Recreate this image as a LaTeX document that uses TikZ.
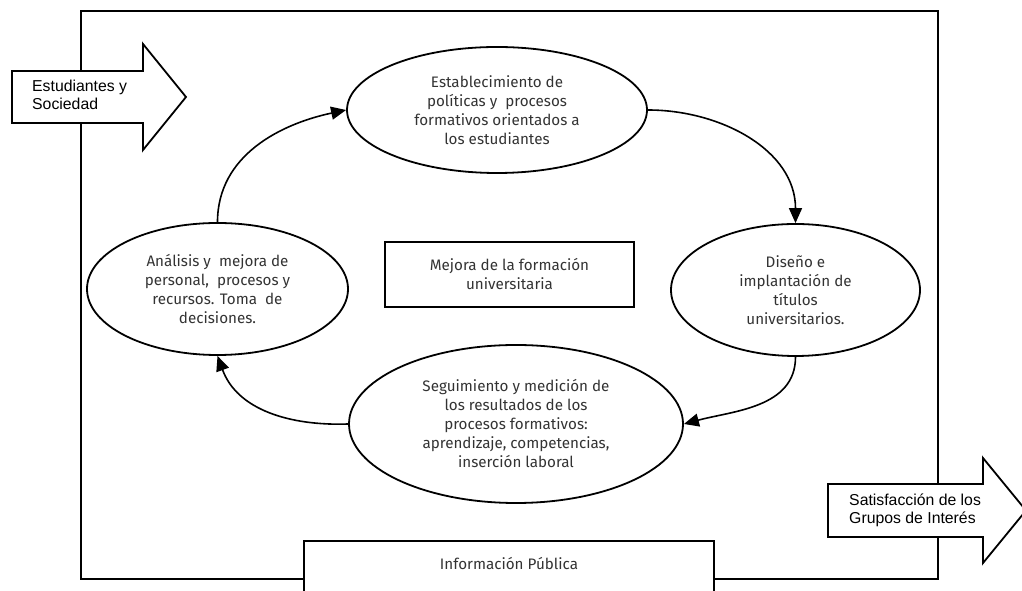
\documentclass[tikz,border=0pt]{standalone}
\usepackage{fontspec}
\setmainfont{Liberation Sans}
\newfontfamily\dinfont{Fira Sans}
\usetikzlibrary{shapes.geometric,arrows.meta}
\tikzset{
  proc/.style={ellipse,draw,line width=1.8pt,inner sep=0pt,align=center,text=black!80,font=\dinfont\fontsize{15.2}{19}\selectfont},
  flow/.style={line width=1.6pt,-{Triangle[length=15pt,width=13pt]}},
  flat/.style={draw,line width=1.8pt,fill=white},
  side/.style={inner sep=0pt,align=left,font=\fontsize{15.8}{18}\selectfont}
}
\begin{document}
\begin{tikzpicture}[x=1pt,y=1pt]
        \useasboundingbox (0,0) rectangle (1022,591);
        \draw[line width=1.8pt] (81,12) rectangle (938,580);
        \draw[flat] (12,468) -- (143,468) -- (143,441) -- (186,494) -- (143,547) -- (143,520) -- (12,520) -- cycle;
        \node[side,anchor=west] (L) at (32,496) {Estudiantes y\\Sociedad};
        \draw[flat] (828,54) -- (983,54) -- (983,28) -- (1026,80.5) -- (983,133) -- (983,107) -- (828,107) -- cycle;
        \node[side,anchor=west] (R) at (849,81) {Satisfacción de los\\Grupos de Interés};
        \draw[flat] (304,-20) rectangle (714,50.3);
        \node[text=black!80,font=\dinfont\fontsize{15.2}{19}\selectfont] (I) at (509,27) {Información Pública};
        \node[draw,line width=1.8pt,minimum width=249pt,minimum height=65pt,align=center,text=black!80,font=\dinfont\fontsize{15.2}{19}\selectfont] (M) at (509.5,316.5) {Mejora de la formación\\universitaria};
        \node[proc,minimum width=300pt,minimum height=126pt] (A) at (497,481) {Establecimiento de\\políticas y~ procesos\\formativos orientados a\\los estudiantes};
        \node[proc,minimum width=249pt,minimum height=132pt] (B) at (795.5,301) {Diseño e\\implantación de\\títulos\\universitarios.};
        \node[proc,minimum width=334pt,minimum height=158pt] (C) at (516,167) {Seguimiento y medición de\\los resultados de los\\procesos formativos:\\aprendizaje, competencias,\\inserción laboral};
        \node[proc,minimum width=261pt,minimum height=132pt] (D) at (217.5,302) {Análisis y~ mejora de\\personal,~ procesos y\\recursos. Toma~ de\\decisiones.};
        \draw[flow] (D.north) to[out=90,in=192] (A.west);
        \draw[flow] (A.east) to[out=0,in=90] (B.north);
        \draw[flow] (B.south) to[out=-90,in=15] (C.east);
        \draw[flow] (C.west) to[out=182,in=-70] (D.south);
    \end{tikzpicture}
\end{document}
